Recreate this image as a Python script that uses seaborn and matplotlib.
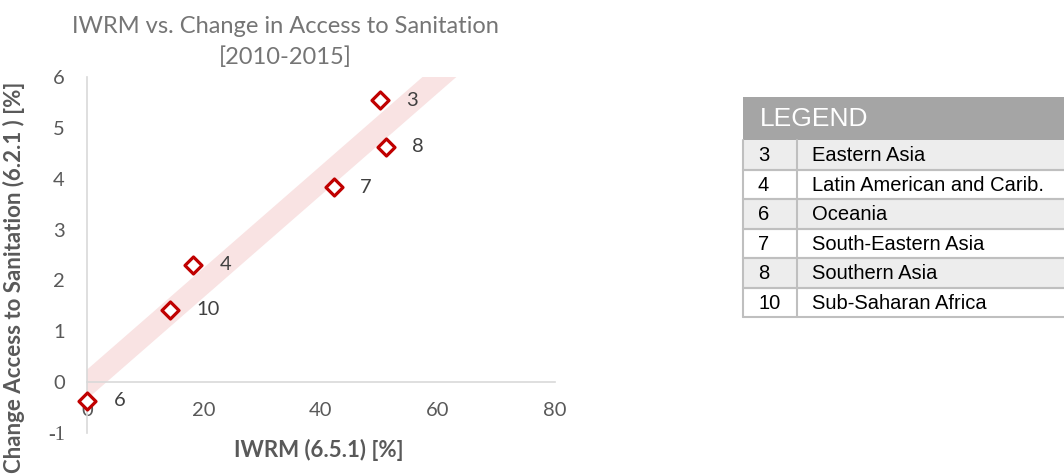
import matplotlib
matplotlib.use("Agg")
import matplotlib.pyplot as plt
from matplotlib.patches import Rectangle
import seaborn as sns
import pandas as pd

# ---- data ----
region_ids = ["3", "4", "6", "7", "8", "10"]
iwrm = [50.1, 18.1, 0.0, 42.2, 51.1, 14.2]
change = [5.54, 2.31, -0.37, 3.83, 4.63, 1.42]
legend_names = ["Eastern Asia", "Latin American and Carib.", "Oceania",
                "South-Eastern Asia", "Southern Asia", "Sub-Saharan Africa"]
x_ticks = [0, 20, 40, 60, 80]
y_ticks = [-1, 0, 1, 2, 3, 4, 5, 6]
title_text = "IWRM vs. Change in Access to Sanitation\n[2010-2015]"
x_label = "IWRM (6.5.1) [%]"
y_label = "Change Access to Sanitation (6.2.1 ) [%]"

df = pd.DataFrame({"id": region_ids, "iwrm": iwrm, "change": change})

sns.set_theme(style="white")
plt.rcParams["font.family"] = ["Lato", "DejaVu Sans"]

W, H = 1064, 475
fig = plt.figure(figsize=(W / 100, H / 100), dpi=100)

# table layer (pixel coordinates)
tax = fig.add_axes([0, 0, 1, 1])
tax.set_xlim(0, W)
tax.set_ylim(H, 0)
tax.axis("off")
tax.patch.set_alpha(0)

ax = fig.add_axes([87 / W, 1 - 433 / H, (555 - 87) / W, (433 - 77) / H])
ax.set_xlim(0, 80)
ax.set_ylim(-1, 6)

sns.regplot(data=df, x="iwrm", y="change", scatter=False, ci=None,
            truncate=False, ax=ax,
            line_kws=dict(color="#F9E3E3", lw=16, solid_capstyle="projecting",
                          zorder=1))
sns.scatterplot(data=df, x="iwrm", y="change", marker="D", s=75,
                facecolor="white", edgecolor="#C00000", linewidth=2.3,
                ax=ax, zorder=3, clip_on=False)
ax.set_xlim(0, 80)
ax.set_ylim(-1, 6)

for lab, xv, yv in zip(region_ids, iwrm, change):
    ax.annotate(lab, (xv, yv), xytext=(19, 0), textcoords="offset points",
                ha="left", va="center", fontsize=14.5, color="#404040",
                annotation_clip=False)

ax.set_xticks(x_ticks)
ax.set_yticks(y_ticks)
ax.set_xticklabels([str(t) for t in x_ticks])
ax.set_yticklabels([str(t) for t in y_ticks])
ax.get_yticklabels()[0].set_fontfamily("Liberation Serif")
ax.tick_params(axis="both", length=0, labelsize=14.5, labelcolor="#595959")
ax.tick_params(axis="x", pad=14)
ax.tick_params(axis="y", pad=16)
ax.set_xlabel("")
ax.set_ylabel("")
for s in ["top", "right"]:
    ax.spines[s].set_visible(False)
ax.spines["bottom"].set_position(("data", 0))
for s in ["left", "bottom"]:
    ax.spines[s].set_color("#D9D9D9")
    ax.spines[s].set_linewidth(1.2)
ax.grid(False)

fig.text(285 / W, 1 - 42 / H, title_text, ha="center", va="center",
         fontsize=17, color="#757575", linespacing=1.5)
fig.text(319 / W, 1 - 450 / H, x_label, ha="center", va="center",
         fontsize=16, fontweight="bold", color="#595959")
fig.text(14 / W, 1 - 277 / H, y_label, ha="center", va="center",
         rotation=90, fontsize=16, fontweight="bold", color="#595959")

# ---- legend table ----
x0, x1, xdiv = 743, 1075, 797
ytop, yhead = 97, 140
row_h = 29.5
tax.add_patch(Rectangle((x0, ytop), x1 - x0, yhead - ytop, color="#A5A5A5", lw=0))
tax.text(760, (ytop + yhead) / 2 + 1, "LEGEND", ha="left", va="center",
         fontsize=19, color="white", family="Liberation Sans")
for i, (rid, name) in enumerate(zip(region_ids, legend_names)):
    y0 = yhead + i * row_h
    fc = "#EDEDED" if i % 2 == 0 else "white"
    tax.add_patch(Rectangle((x0, y0), x1 - x0, row_h, facecolor=fc,
                            edgecolor="none"))
    tax.text(758, y0 + row_h / 2 + 1, rid, ha="left", va="center",
             fontsize=14.5, color="black", family="Liberation Sans")
    tax.text(812, y0 + row_h / 2 + 1, name, ha="left", va="center",
             fontsize=14.5, color="black", family="Liberation Sans")
    tax.plot([x0, x1], [y0 + row_h, y0 + row_h], color="#BFBFBF", lw=1.5)
    if i > 0:
        tax.plot([x0, x1], [y0, y0], color="#BFBFBF", lw=1.5)
ybot = yhead + len(region_ids) * row_h
tax.plot([x0, x0], [yhead, ybot], color="#BFBFBF", lw=1.5)
tax.plot([xdiv, xdiv], [yhead, ybot], color="#BFBFBF", lw=1.5)

fig.savefig("out.png", dpi=100)
